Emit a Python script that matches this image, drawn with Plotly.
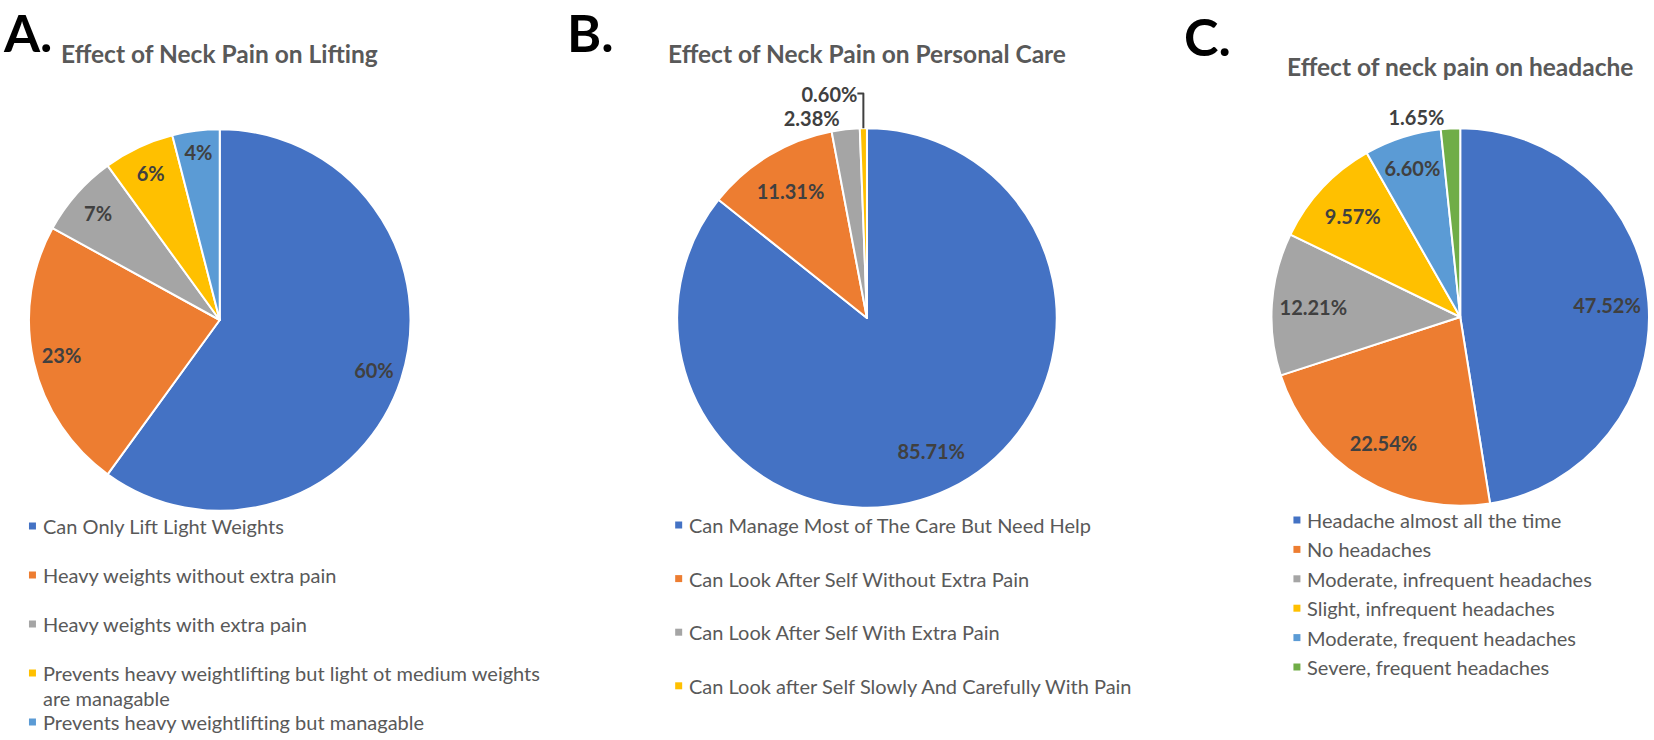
import textwrap
import plotly.graph_objects as go

W, H = 1654, 740

# ---------------- data ----------------
lift_labels = [
    "Can Only Lift Light Weights",
    "Heavy weights without extra pain",
    "Heavy weights with extra pain",
    "Prevents heavy weightlifting but light ot medium weights are managable",
    "Prevents heavy weightlifting but managable",
]
lift_values = [60, 23, 7, 6, 4]

care_labels = [
    "Can Manage Most of The Care But Need Help",
    "Can Look After Self Without Extra Pain",
    "Can Look After Self With Extra Pain",
    "Can Look after Self Slowly And Carefully With Pain",
]
care_values = [85.71, 11.31, 2.38, 0.60]

head_labels = [
    "Headache almost all the time",
    "No headaches",
    "Moderate, infrequent headaches",
    "Slight, infrequent headaches",
    "Moderate, frequent headaches",
    "Severe, frequent headaches",
]
head_values = [47.52, 22.54, 12.21, 9.57, 6.60, 1.65]

titles = [
    "Effect of Neck Pain on Lifting",
    "Effect of Neck Pain on Personal Care",
    "Effect of neck pain on headache",
]
panel_letters = ["A.", "B.", "C."]

# ---------------- styles ----------------
BLUE, ORANGE, GRAY, YELLOW, LBLUE, GREEN = (
    "#4472C4", "#ED7D31", "#A5A5A5", "#FFC000", "#5B9BD5", "#70AD47")
FONT = "Lato"
TXT = "#595959"
LABEL_SIZE = 20
LEGEND_SIZE = 20

panels = [
    dict(labels=lift_labels, values=lift_values, fmt="{:.0f}%",
         colors=[BLUE, ORANGE, GRAY, YELLOW, LBLUE],
         pos=["inside"] * 5, hole=0.7,
         cx=220, cy=320, r=191,
         letter=dict(x=2, y=0, yanchor="top"), title_xy=(220, 53),
         leg_x=29, leg_y0=526, leg_step=49, wrap=56),
    dict(labels=care_labels, values=care_values, fmt="{:.2f}%",
         colors=[BLUE, ORANGE, GRAY, YELLOW],
         pos=["inside", "inside", "outside", "outside"], hole=0.56,
         cx=868, cy=318, r=190,
         letter=dict(x=567, y=0, yanchor="top"), title_xy=(868, 53),
         leg_x=676, leg_y0=525, leg_step=53.6, wrap=80),
    dict(labels=head_labels, values=head_values, fmt="{:.2f}%",
         colors=[BLUE, ORANGE, GRAY, YELLOW, LBLUE, GREEN],
         pos=["inside"] * 5 + ["outside"], hole=0.56,
         cx=1462, cy=317, r=189,
         letter=dict(x=1184, y=36, yanchor="middle"), title_xy=(1462, 67),
         leg_x=1295, leg_y0=520, leg_step=29.4, wrap=80),
]


def px(x):
    return x / W


def py(y):
    return 1 - y / H


fig = go.Figure()
annotations = []
shapes = []

for k, p in enumerate(panels):
    cx, cy, r = p["cx"], p["cy"], p["r"]
    dom = dict(x=[px(cx - r), px(cx + r)], y=[py(cy + r), py(cy - r)])
    # visible slices
    fig.add_trace(go.Pie(
        labels=p["labels"],
        values=p["values"],
        textinfo="none",
        marker=dict(colors=p["colors"], line=dict(color="white", width=2)),
        sort=False, direction="clockwise", rotation=0,
        showlegend=False, hoverinfo="label+percent",
        domain=dom,
    ))
    # data labels (transparent ring so that labels sit toward the rim)
    fig.add_trace(go.Pie(
        labels=p["labels"],
        values=p["values"],
        text=[p["fmt"].format(v) for v in p["values"]],
        textinfo="text",
        textposition=p["pos"],
        insidetextorientation="horizontal",
        textfont=dict(family=FONT, size=LABEL_SIZE, color="#404040",
                      weight="bold"),
        marker=dict(colors=["rgba(0,0,0,0)"] * len(p["values"]),
                    line=dict(width=0)),
        hole=p["hole"],
        sort=False, direction="clockwise", rotation=0,
        showlegend=False, hoverinfo="skip",
        domain=dom,
    ))

    # panel letter
    L = p["letter"]
    annotations.append(dict(
        text=panel_letters[k], x=px(L["x"]), y=py(L["y"]),
        xref="paper", yref="paper", xanchor="left", yanchor=L["yanchor"],
        showarrow=False, borderpad=0,
        font=dict(family=FONT, size=52, color="black", weight="bold")))
    # title
    tx, ty = p["title_xy"]
    annotations.append(dict(
        text=titles[k], x=px(tx), y=py(ty),
        xref="paper", yref="paper", xanchor="center", yanchor="middle",
        showarrow=False,
        font=dict(family=FONT, size=24.5, color=TXT, weight="bold")))

    # legend
    for i, (lab, col) in enumerate(zip(p["labels"], p["colors"])):
        yc = p["leg_y0"] + i * p["leg_step"]
        shapes.append(dict(
            type="rect", xref="paper", yref="paper",
            x0=px(p["leg_x"]), x1=px(p["leg_x"] + 7),
            y0=py(yc + 3.5), y1=py(yc - 3.5),
            fillcolor=col, line=dict(width=0)))
        for j, line in enumerate(textwrap.wrap(lab, p["wrap"])):
            annotations.append(dict(
                text=line, x=px(p["leg_x"] + 12), y=py(yc + j * 25),
                xref="paper", yref="paper", xanchor="left", yanchor="middle",
                showarrow=False,
                font=dict(family=FONT, size=LEGEND_SIZE, color=TXT)))

fig.update_layout(
    width=W, height=H,
    margin=dict(l=0, r=0, t=0, b=0),
    paper_bgcolor="white",
    plot_bgcolor="white",
    annotations=annotations,
    shapes=shapes,
    uniformtext=dict(minsize=LABEL_SIZE, mode="show"),
)

fig.write_html("out.html", config={"displayModeBar": False},
               post_script="document.body.style.margin='0';")
